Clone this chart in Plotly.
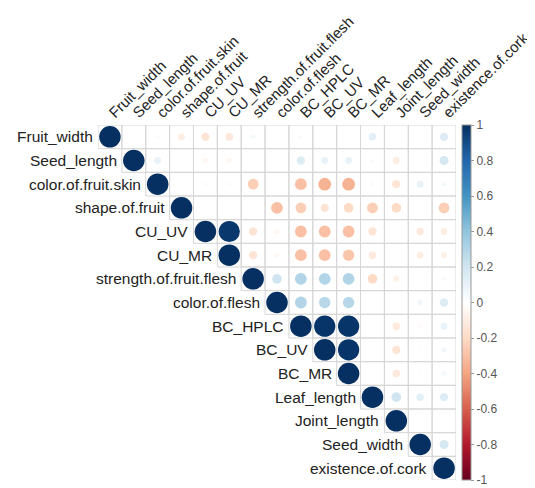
import numpy as np
import plotly.graph_objects as go

variables = ["Fruit_width", "Seed_length", "color.of.fruit.skin", "shape.of.fruit",
             "CU_UV", "CU_MR", "strength.of.fruit.flesh", "color.of.flesh",
             "BC_HPLC", "BC_UV", "BC_MR", "Leaf_length", "Joint_length",
             "Seed_width", "existence.of.cork"]

# upper-triangle correlations (values right of the diagonal, row by row)
fruit_width = [0.00, 0.03, -0.10, -0.15, -0.13, 0.05, -0.02, 0.03, 0.00, 0.00, 0.12, 0.01, 0.00, 0.15]
seed_length = [0.10, -0.02, -0.05, -0.05, 0.02, 0.00, 0.15, 0.10, 0.10, 0.03, -0.10, 0.00, 0.18]
color_fruit_skin = [-0.02, 0.03, 0.03, -0.25, 0.00, -0.30, -0.35, -0.35, 0.03, -0.15, 0.10, 0.05]
shape_fruit = [0.00, 0.02, 0.00, -0.30, -0.25, -0.15, -0.20, -0.25, -0.20, 0.00, -0.25]
cu_uv = [0.97, -0.15, -0.05, -0.30, -0.30, -0.30, -0.15, 0.02, -0.12, -0.10]
cu_mr = [-0.15, -0.05, -0.30, -0.30, -0.28, -0.12, 0.02, -0.10, -0.08]
strength_fruit_flesh = [0.20, 0.30, 0.30, 0.30, -0.20, -0.08, 0.00, 0.04]
color_flesh = [0.30, 0.28, 0.28, 0.01, 0.00, 0.06, 0.15]
bc_hplc = [0.98, 0.98, 0.01, -0.12, -0.03, 0.10]
bc_uv = [0.98, 0.00, -0.15, -0.02, 0.06]
bc_mr = [0.00, -0.12, -0.02, 0.05]
leaf_length = [0.20, 0.12, 0.15]
joint_length = [0.01, 0.01]
seed_width = [0.18]
existence_cork = []

rows = [fruit_width, seed_length, color_fruit_skin, shape_fruit, cu_uv, cu_mr,
        strength_fruit_flesh, color_flesh, bc_hplc, bc_uv, bc_mr, leaf_length,
        joint_length, seed_width, existence_cork]

cbar_vals = [1, 0.8, 0.6, 0.4, 0.2, 0, -0.2, -0.4, -0.6, -0.8, -1]
cbar_text = ["1", "0.8", "0.6", "0.4", "0.2", "0", "-0.2", "-0.4", "-0.6", "-0.8", "-1"]

col2_rdbu = ["#67001F", "#B2182B", "#D6604D", "#F4A582", "#FDDBC7", "#FFFFFF",
             "#D1E5F0", "#92C5DE", "#4393C3", "#2166AC", "#053061"]
colorscale = [[i / (len(col2_rdbu) - 1), c] for i, c in enumerate(col2_rdbu)]

n = len(variables)
xs, ys, vs = [], [], []
for i in range(n):
    vals = [1.0] + rows[i]
    for k, v in enumerate(vals):
        xs.append(i + k)
        ys.append(i)
        vs.append(v)
vs = np.array(vs)
D = 21.5
sizes = D * np.sqrt(np.abs(vs))

fig = go.Figure()

# grid (upper triangle cells)
shapes = []
for i in range(n):
    for j in range(i, n):
        shapes.append(dict(type="rect", xref="x", yref="y", x0=j - 0.5, x1=j + 0.5,
                           y0=i - 0.5, y1=i + 0.5, line=dict(color="#D6D6D6", width=1),
                           layer="below"))

FONT = "Liberation Sans"
fig.add_trace(go.Scatter(
    x=xs, y=ys, mode="markers",
    marker=dict(size=sizes, color=vs, cmin=-1, cmax=1, colorscale=colorscale,
                line=dict(width=0), opacity=1,
                showscale=True,
                colorbar=dict(x=1.016, xanchor="left", xpad=0, y=0.5, yanchor="middle",
                              len=1, lenmode="fraction", ypad=0, thickness=9,
                              outlinewidth=1, outlinecolor="#999999",
                              tickvals=cbar_vals, ticktext=cbar_text,
                              ticks="outside", ticklen=3, tickcolor="#999999",
                              tickfont=dict(family=FONT, size=12, color="#555555"))),
    hoverinfo="skip", showlegend=False))

annotations = []
for i, name in enumerate(variables):
    annotations.append(dict(x=i - 0.5, y=i, xref="x", yref="y", text=name,
                            showarrow=False, xanchor="right", yanchor="middle", xshift=-3,
                            font=dict(family=FONT, size=15.5, color="#222222")))

# the page adds an 8px body margin, so the figure is 8px smaller and shifted
fig.update_layout(
    width=527, height=480,
    margin=dict(l=90, r=79, t=117, b=8, autoexpand=False),
    paper_bgcolor="white", plot_bgcolor="white",
    shapes=shapes, annotations=annotations,
    xaxis=dict(range=[-0.5, n - 0.5], side="top", tickmode="array",
               tickvals=list(range(n)), ticktext=variables, tickangle=-45,
               showgrid=False, zeroline=False, showline=False, ticks="",
               automargin=False,
               tickfont=dict(family=FONT, size=15, color="#222222")),
    yaxis=dict(range=[n - 0.5, -0.5], showgrid=False, zeroline=False,
               showline=False, showticklabels=False, ticks="", automargin=False),
)

fig.write_html("out.html")
